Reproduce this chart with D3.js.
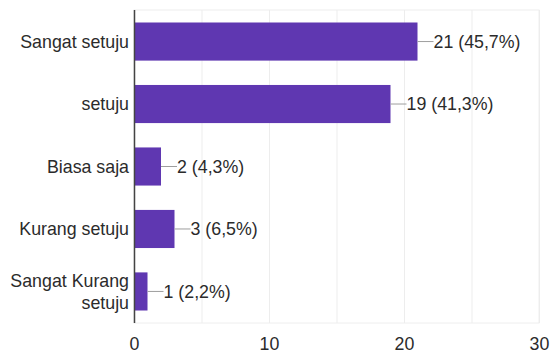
<!DOCTYPE html>
<html>
<head>
<meta charset="utf-8">
<script src="https://cdn.jsdelivr.net/npm/d3@7"></script>
<style>
  html, body { margin: 0; padding: 0; background: #fff; }
  svg { display: block; font-family: "Liberation Sans", Arial, sans-serif; }
</style>
</head>
<body>
<svg id="chart" width="553" height="354"></svg>
<script>
// Survey responses per answer option
const categories = ["Sangat setuju", "setuju", "Biasa saja", "Kurang setuju", "Sangat Kurang setuju"];
const counts = [21, 19, 2, 3, 1];
const percents = ["45,7%", "41,3%", "4,3%", "6,5%", "2,2%"];
const xTicks = [0, 10, 20, 30];
const gridTicks = [0, 5, 10, 15, 20, 25, 30];

const svg = d3.select("#chart");
const margin = { top: 10, right: 14, bottom: 31, left: 134 };
const W = 553, H = 354;
const innerW = W - margin.left - margin.right;
const innerH = H - margin.top - margin.bottom;
const fontSize = 17.8;

const x = d3.scaleLinear().domain([0, 30]).range([0, innerW]);
const y = d3.scaleBand().domain(categories).range([0, innerH]).paddingInner(0.39).paddingOuter(0.2);

const g = svg.append("g").attr("transform", `translate(${margin.left},${margin.top})`);

// plot frame and vertical gridlines
g.append("rect")
  .attr("x", 0).attr("y", 0).attr("width", innerW).attr("height", innerH)
  .attr("fill", "none").attr("stroke", "#eeeeee").attr("stroke-width", 1);
g.selectAll("line.grid").data(gridTicks).join("line")
  .attr("class", "grid")
  .attr("x1", d => x(d) + 0.5).attr("x2", d => x(d) + 0.5)
  .attr("y1", 0).attr("y2", innerH)
  .attr("stroke", "#ededed").attr("stroke-width", 1);

// bars
g.selectAll("rect.bar").data(categories).join("rect")
  .attr("class", "bar")
  .attr("x", 0)
  .attr("y", d => y(d))
  .attr("width", (d, i) => x(counts[i]))
  .attr("height", y.bandwidth())
  .attr("fill", "#5f37b1");

// leader lines and value labels
const labelGap = 16;
g.selectAll("line.lead").data(categories).join("line")
  .attr("class", "lead")
  .attr("x1", (d, i) => x(counts[i]))
  .attr("x2", (d, i) => x(counts[i]) + labelGap)
  .attr("y1", d => y(d) + y.bandwidth() / 2)
  .attr("y2", d => y(d) + y.bandwidth() / 2)
  .attr("stroke", "#9e9e9e").attr("stroke-width", 1);
g.selectAll("text.val").data(categories).join("text")
  .attr("class", "val")
  .attr("x", (d, i) => x(counts[i]) + labelGap)
  .attr("y", d => y(d) + y.bandwidth() / 2)
  .attr("dy", "0.36em")
  .attr("font-size", fontSize)
  .attr("fill", "#2b2b2b")
  .text((d, i) => `${counts[i]} (${percents[i]})`);

// category labels (wrapped where the label is long)
const catLabels = g.selectAll("text.cat").data(categories).join("text")
  .attr("class", "cat")
  .attr("text-anchor", "end")
  .attr("font-size", fontSize)
  .attr("fill", "#2b2b2b");
catLabels.each(function (d) {
  const t = d3.select(this);
  const cy = y(d) + y.bandwidth() / 2;
  const lines = d === "Sangat Kurang setuju" ? ["Sangat Kurang", "setuju"] : [d];
  const lh = 22;
  lines.forEach((ln, k) => {
    t.append("tspan")
      .attr("x", -5)
      .attr("y", cy + (k - (lines.length - 1) / 2) * lh)
      .attr("dy", "0.36em")
      .text(ln);
  });
});

// left axis line
g.append("line")
  .attr("x1", 0.5).attr("x2", 0.5).attr("y1", 0).attr("y2", innerH)
  .attr("stroke", "#444").attr("stroke-width", 1.5);

// bottom tick labels
const xAxis = d3.axisBottom(x).tickValues(xTicks).tickSize(0).tickPadding(14);
const ax = g.append("g").attr("transform", `translate(0,${innerH})`).call(xAxis);
ax.select(".domain").remove();
ax.selectAll("text").attr("font-size", fontSize).attr("fill", "#2b2b2b")
  .attr("font-family", "'Liberation Sans', Arial, sans-serif");
</script>
</body>
</html>
